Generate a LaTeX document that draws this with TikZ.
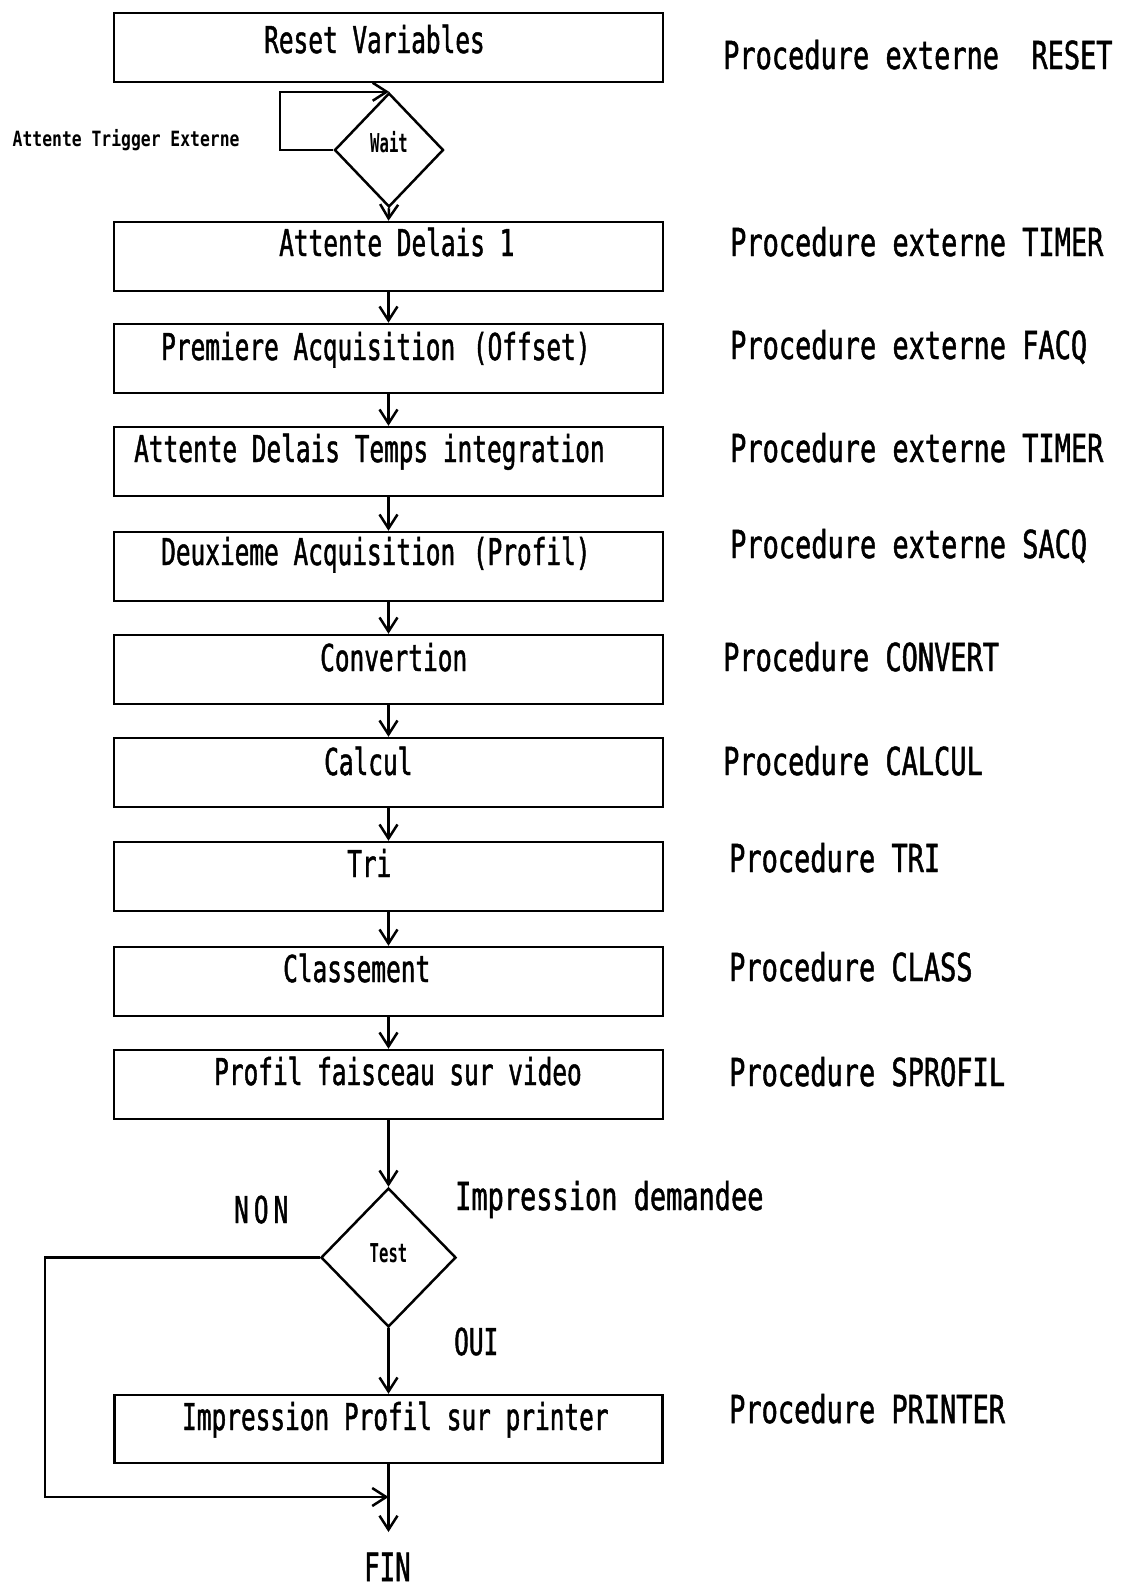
\documentclass[tikz,border=0pt]{standalone}
\usepackage{fontspec}
\setmainfont{DejaVu Sans Mono}
\newfontfamily\boxfont[FakeStretch=0.66,FakeBold=1.2]{DejaVu Sans Mono}
\newfontfamily\procfont[FakeStretch=0.70,FakeBold=1.2]{DejaVu Sans Mono}
\newfontfamily\smallfont[FakeStretch=0.78]{DejaVu Sans Mono}
\newfontfamily\diafont[FakeStretch=0.60]{DejaVu Sans Mono}
\usetikzlibrary{arrows.meta,shapes.geometric}
\tikzset{
  lw/.style={line width=2.5pt},
  flow/.style={lw, -{Straight Barb[length=14pt,width=18pt]}},
  stepbox/.style={draw, lw, minimum width=549pt, minimum height=69pt, inner sep=0pt},
  decision/.style={draw, diamond, lw, inner sep=0pt, font=\diafont\bfseries\fontsize{26}{28}\selectfont},
  boxtxt/.style={anchor=base west, inner sep=0pt, font=\boxfont\fontsize{37}{40}\selectfont},
  proctxt/.style={anchor=base west, inner sep=0pt, font=\procfont\fontsize{38.5}{42}\selectfont},
  smalltxt/.style={anchor=base west, inner sep=0pt, font=\smallfont\bfseries\fontsize{21}{24}\selectfont},
}
\begin{document}
\begin{tikzpicture}[x=1pt,y=-1pt]
\useasboundingbox (0,0) rectangle (1123,1588);

% boxes
\node[stepbox] (b1) at (388.5,47.5) {};
\node[stepbox] (b2) at (388.5,256.5) {};
\node[stepbox] (b3) at (388.5,358.5) {};
\node[stepbox] (b4) at (388.5,461.5) {};
\node[stepbox] (b5) at (388.5,566.5) {};
\node[stepbox] (b6) at (388.5,669.5) {};
\node[stepbox] (b7) at (388.5,772.5) {};
\node[stepbox] (b8) at (388.5,876.5) {};
\node[stepbox] (b9) at (388.5,981.5) {};
\node[stepbox] (b10) at (388.5,1084.5) {};
\node[stepbox, minimum width=548pt, minimum height=68pt] (imp) at (388.5,1429) {};

% box texts
\node[boxtxt] (t1) at (264,53) {Reset Variables};
\node[boxtxt] (t2) at (279,256) {Attente Delais 1};
\node[boxtxt] (t3) at (161,360) {Premiere Acquisition\kern3pt{} (Offset)};
\node[boxtxt] (t4) at (134,462) {Attente Delais Temps integration};
\node[boxtxt] (t5) at (161,565) {Deuxieme Acquisition\kern3pt{} (Profil)};
\node[boxtxt] (t6) at (320,671) {Convertion};
\node[boxtxt] (t7) at (324,775) {Calcul};
\node[boxtxt] (t8) at (347,877) {Tri};
\node[boxtxt] (t9) at (283,982) {Classement};
\node[boxtxt] (t10) at (214,1085) {Profil faisceau sur video};
\node[boxtxt] (t11) at (182,1430) {Impression Profil sur printer};

% procedure labels
\node[proctxt] (p1) at (723,69) {Procedure externe~~RESET};
\node[proctxt] (p2) at (730,256) {Procedure externe TIMER};
\node[proctxt] (p3) at (730,359) {Procedure externe FACQ};
\node[proctxt] (p4) at (730,462) {Procedure externe TIMER};
\node[proctxt] (p5) at (730,558) {Procedure externe SACQ};
\node[proctxt] (p6) at (723,671) {Procedure CONVERT};
\node[proctxt] (p7) at (723,775) {Procedure CALCUL};
\node[proctxt] (p8) at (729,872) {Procedure TRI};
\node[proctxt] (p9) at (729,981) {Procedure CLASS};
\node[proctxt] (p10) at (729,1086) {Procedure SPROFIL};
\node[proctxt] (p11) at (729,1423) {Procedure PRINTER};
\node[proctxt] (imprq) at (455,1210) {Impression demandee};

% diamonds
\node[decision, minimum width=109pt, minimum height=114pt, text height=10pt, text depth=6pt] (wait) at (389,150) {Wait};
\node[decision, minimum width=135pt, minimum height=139pt, text height=12pt, text depth=3pt] (test) at (388.5,1257.5) {Test};

% side labels
\node[smalltxt] (trig) at (12.5,146) {Attente Trigger Externe};
\node[boxtxt] (non) at (234,1223) {N\kern5pt O\kern5pt N};
\node[boxtxt] (oui) at (454,1355) {OUI};
\node[boxtxt, font=\boxfont\fontsize{39}{42}\selectfont] (fin) at (364,1581) {FIN};

% connectors
\coordinate (loopL) at (280,150);
\draw[flow] (wait.west) -- (loopL) |- (wait.north);
\draw[flow] (wait.south) -- (b2.north);
\draw[flow] (b2.south) -- (b3.north);
\draw[flow] (b3.south) -- (b4.north);
\draw[flow] (b4.south) -- (b5.north);
\draw[flow] (b5.south) -- (b6.north);
\draw[flow] (b6.south) -- (b7.north);
\draw[flow] (b7.south) -- (b8.north);
\draw[flow] (b8.south) -- (b9.north);
\draw[flow] (b9.south) -- (b10.north);
\draw[flow] (b10.south) -- (test.north);
\draw[flow] (test.south) -- (imp.north);
\coordinate (nonL) at (45,1257.5);
\coordinate (join) at (388.5,1497);
\coordinate (finpt) at (388.5,1532);
\draw[flow] (test.west) -- (nonL) |- (join);
\draw[flow] (imp.south) -- (finpt);
\end{tikzpicture}
\end{document}
